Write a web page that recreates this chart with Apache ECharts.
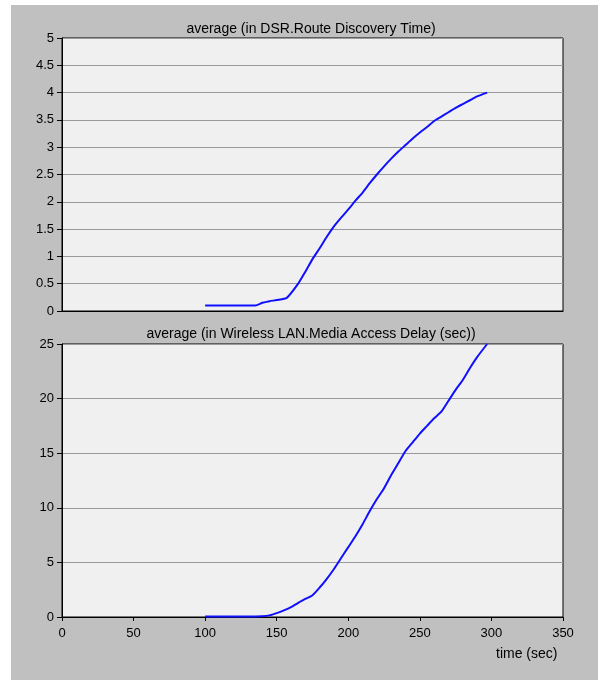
<!DOCTYPE html>
<html>
<head>
<meta charset="utf-8">
<script src="https://cdn.jsdelivr.net/npm/echarts@6/dist/echarts.min.js"></script>
<style>
  html, body { margin: 0; padding: 0; background: #ffffff; }
  #chart { width: 598px; height: 680px; }
</style>
</head>
<body>
<div id="chart"></div>
<script>
// Route discovery time (DSR), averaged over simulation time
const routeTime = [100, 110, 120, 135, 140, 145, 150, 157, 165, 170, 175, 180, 185, 190, 195, 200, 205, 210, 215, 220, 225, 230, 235, 240, 245, 250, 255, 260, 265, 270, 275, 280, 285, 290, 297];
const routeValue = [0.1, 0.1, 0.1, 0.1, 0.15, 0.18, 0.2, 0.24, 0.5, 0.72, 0.95, 1.15, 1.36, 1.55, 1.71, 1.86, 2.02, 2.17, 2.34, 2.5, 2.65, 2.79, 2.92, 3.04, 3.16, 3.27, 3.37, 3.48, 3.56, 3.64, 3.72, 3.79, 3.86, 3.93, 4.0];

// Wireless LAN media access delay (sec), averaged over simulation time
const delayTime = [100, 110, 120, 130, 140, 145, 150, 155, 160, 165, 170, 175, 180, 185, 190, 195, 200, 205, 210, 215, 220, 225, 230, 235, 240, 245, 250, 255, 260, 265, 270, 275, 280, 285, 290, 297];
const delayValue = [0.05, 0.05, 0.05, 0.05, 0.08, 0.15, 0.35, 0.6, 0.9, 1.3, 1.65, 2.0, 2.7, 3.5, 4.4, 5.4, 6.4, 7.4, 8.5, 9.7, 10.8, 11.8, 13.0, 14.1, 15.2, 16.0, 16.8, 17.5, 18.2, 18.8, 19.8, 20.8, 21.7, 22.8, 23.8, 25.0];

const xTicks = [0, 50, 100, 150, 200, 250, 300, 350];
const topTitle = 'average (in DSR.Route Discovery Time)';
const bottomTitle = 'average (in Wireless LAN.Media Access Delay (sec))';
const xName = 'time (sec)';

const pairs = (xs, ys) => xs.map((x, i) => [x, ys[i]]);

const font = 'Arial, "Liberation Sans", sans-serif';
const lbl = { color: '#000', fontSize: 13, fontFamily: font };
const heading = { fontSize: 14, fontWeight: 'normal', color: '#000', fontFamily: font };

function yAxis(gridIndex, max, interval) {
  return {
    type: 'value', gridIndex, min: 0, max, interval,
    axisLine: { show: true, lineStyle: { color: '#000', width: 1 } },
    axisTick: { show: true, length: 5, lineStyle: { color: '#000' } },
    axisLabel: Object.assign({ margin: 8 }, lbl),
    splitLine: { show: true, lineStyle: { color: '#9a9a9a', width: 1 } }
  };
}

function xAxis(gridIndex, showLabels) {
  return {
    type: 'value', gridIndex, min: 0, max: 350, interval: 50,
    axisLine: { show: true, onZero: false, lineStyle: { color: '#000', width: 1 } },
    axisTick: { show: showLabels, length: 4, lineStyle: { color: '#000' } },
    axisLabel: Object.assign({ show: showLabels, margin: 10,
      formatter: v => xTicks.includes(v) ? String(v) : '' }, lbl),
    splitLine: { show: false }
  };
}

const chart = echarts.init(document.getElementById('chart'), null, { renderer: 'canvas' });
chart.setOption({
  animation: false,
  backgroundColor: '#ffffff',
  graphic: [{
    type: 'rect', z: -10, silent: true,
    shape: { x: 11, y: 5, width: 587, height: 675 },
    style: { fill: '#c0c0c0' }
  }],
  title: [
    { text: topTitle, left: 311, top: 22, padding: 0, textAlign: 'center', textStyle: heading },
    { text: bottomTitle, left: 311, top: 327, padding: 0, textAlign: 'center', textStyle: heading },
    { text: xName, left: 496, top: 647, padding: 0, textStyle: heading }
  ],
  grid: [
    { left: 62, top: 38, width: 501, height: 273, show: true,
      backgroundColor: '#f0f0f0', borderColor: '#000', borderWidth: 1 },
    { left: 62, top: 344, width: 501, height: 273, show: true,
      backgroundColor: '#f0f0f0', borderColor: '#000', borderWidth: 1 }
  ],
  xAxis: [xAxis(0, false), xAxis(1, true)],
  yAxis: [yAxis(0, 5, 0.5), yAxis(1, 25, 5)],
  series: [
    { type: 'line', xAxisIndex: 0, yAxisIndex: 0, data: pairs(routeTime, routeValue),
      showSymbol: false, smooth: 0.2, lineStyle: { color: '#1010ff', width: 2 } },
    { type: 'line', xAxisIndex: 1, yAxisIndex: 1, data: pairs(delayTime, delayValue),
      showSymbol: false, smooth: 0.2, lineStyle: { color: '#1010ff', width: 2 } }
  ]
});
</script>
</body>
</html>
